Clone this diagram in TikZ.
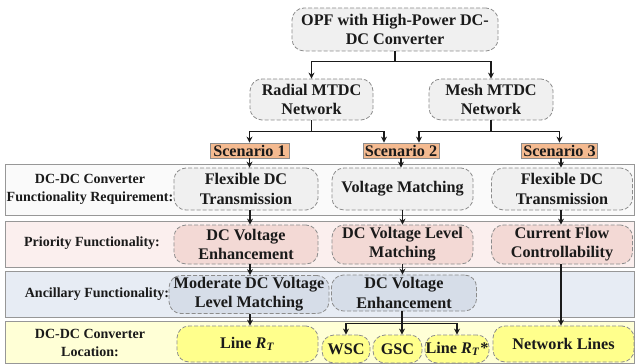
\documentclass[tikz,border=0pt]{standalone}
\usepackage{fontspec}
\setmainfont{Liberation Serif}
\usepackage{tikz}
\usetikzlibrary{positioning, arrows.meta}
\definecolor{ofInk}{HTML}{1A1A1A}
\definecolor{ofEdge}{HTML}{8C8C8C}
\definecolor{ofGray}{HTML}{F0F0F0}
\definecolor{ofOrange}{HTML}{F4BA90}
\definecolor{ofBandA}{HTML}{FAFAFA}
\definecolor{ofBandB}{HTML}{FBEFEE}
\definecolor{ofPink}{HTML}{F3D9D5}
\definecolor{ofBandC}{HTML}{E7ECF4}
\definecolor{ofBlue}{HTML}{D6DDE8}
\definecolor{ofBandD}{HTML}{FFFFD6}
\definecolor{ofYellow}{HTML}{FFFF8C}

\begin{document}
\begin{tikzpicture}[
    x=0.5pt, y=-0.5pt,
    >={Stealth[length=3pt, width=3pt]},
    box/.style={draw=ofEdge, dash pattern=on 2pt off 1pt, rounded corners=6pt, line width=0.4pt,
                align=center, inner sep=0pt, text=ofInk, font=\fontsize{8.1}{9.6}\selectfont\bfseries},
    graybox/.style={box, fill=ofGray},
    pinkbox/.style={box, fill=ofPink},
    bluebox/.style={box, fill=ofBlue},
    yellowbox/.style={box, fill=ofYellow},
    scenbox/.style={draw=ofEdge, fill=ofOrange, line width=0.4pt, inner sep=0.8pt,
                    minimum height=7.5pt, text=ofInk, font=\fontsize{8.1}{9.6}\selectfont\bfseries},
    band/.style={draw=ofEdge!90, line width=0.5pt},
    bandlabel/.style={font=\fontsize{7}{9}\selectfont\bfseries, align=center, text=ofInk},
    arrow/.style={->, line width=0.7pt, ofInk},
]
\useasboundingbox (0,0) rectangle (635,363);

% --- Bands ---
\path[band, fill=ofBandA] (5,164) rectangle (634,215);
\path[band, fill=ofBandB] (5,221) rectangle (634,267);
\path[band, fill=ofBandC] (5,271) rectangle (634,317);
\path[band, fill=ofBandD] (5,321) rectangle (634,363);

\node[bandlabel] (labreq) at (90,189) {DC-DC Converter\\Functionality Requirement:};
\node[bandlabel] (labpri) at (92,243) {Priority Functionality:};
\node[bandlabel] (labanc) at (97,294) {Ancillary Functionality:};
\node[bandlabel] (labloc) at (90,343) {DC-DC Converter\\Location:};

% --- Top: OPF and networks ---
\node[graybox, minimum width=103pt, minimum height=21.5pt] (opf) at (395,29.5) {OPF with High-Power DC-\\DC Converter};
\node[graybox, minimum width=61.5pt, minimum height=20.5pt] (radial) at (311.5,99.5) {Radial MTDC\\Network};
\node[graybox, minimum width=62pt, minimum height=20.5pt] (mesh) at (491,99.5) {Mesh MTDC\\Network};

\draw[arrow] (opf.south) -- ++(0,10) -| (radial.north);
\draw[arrow] (opf.south) -- ++(0,10) -| (mesh.north);

% --- Scenarios ---
\node[scenbox, minimum width=39.5pt] (sc1) at (249.5,150.5) {Scenario 1};
\node[scenbox, minimum width=38pt] (sc2) at (401,150.5) {Scenario 2};
\node[scenbox, minimum width=37.5pt] (sc3) at (559.5,150.5) {Scenario 3};

\draw[arrow] (radial.south) -- ++(0,11) -| (sc1.north);
\draw[arrow] (radial.south) -- ++(0,11) -| ([xshift=-8.5pt]sc2.north);
\draw[arrow] (mesh.south) -- ++(0,11) -| ([xshift=9pt]sc2.north);
\draw[arrow] (mesh.south) -- ++(0,11) -| (sc3.north);

% --- Functionality requirement ---
\node[graybox, minimum width=72pt, minimum height=21pt] (req1) at (246,189) {Flexible DC\\Transmission};
\node[graybox, minimum width=70.5pt, minimum height=21pt] (req2) at (402.5,189) {Voltage Matching};
\node[graybox, minimum width=70.5pt, minimum height=21pt] (req3) at (562,189) {Flexible DC\\Transmission};

\draw[arrow] (sc1.south) -- (sc1.south |- req1.north);
\draw[arrow] (sc2.south) -- (sc2.south |- req2.north);
\draw[arrow] ([xshift=0.75pt]sc3.south) -- ([xshift=0.75pt]sc3.south |- req3.north);

% --- Priority functionality ---
\node[pinkbox, minimum width=72pt, minimum height=19.5pt] (pri1) at (246,244.5) {DC Voltage\\Enhancement};
\node[pinkbox, minimum width=70.5pt, minimum height=19.5pt] (pri2) at (402.5,244.5) {DC Voltage Level\\Matching};
\node[pinkbox, minimum width=70.5pt, minimum height=19.5pt] (pri3) at (562,244.5) {Current Flow\\Controllability};

\draw[arrow] ([xshift=2pt]req1.south) -- ([xshift=2pt]req1.south |- pri1.north);
\draw[arrow] (req2.south) -- (req2.south |- pri2.north);
\draw[arrow] ([xshift=-0.5pt]req3.south) -- ([xshift=-0.5pt]req3.south |- pri3.north);

% --- Ancillary functionality ---
\node[bluebox, minimum width=80pt, minimum height=19pt] (anc1) at (249,294.5) {Moderate DC Voltage\\Level Matching};
\node[bluebox, minimum width=72.5pt, minimum height=18pt] (anc2) at (404,293) {DC Voltage\\Enhancement};

\draw[arrow] ([xshift=2pt]pri1.south) -- ([xshift=0.5pt]anc1.north);
\draw[arrow] (pri2.south) -- (pri2.south |- anc2.north);

% --- Converter location ---
\node[yellowbox, minimum width=70.5pt, minimum height=18pt] (loc1) at (247.5,344) {Line \textit{R}\textsubscript{\textit{T}}};
\node[yellowbox, minimum width=24pt, minimum height=14pt] (wsc) at (346,349) {WSC};
\node[yellowbox, minimum width=24.5pt, minimum height=14pt] (gsc) at (397.5,349) {GSC};
\node[yellowbox, minimum width=32pt, minimum height=14pt] (lrt) at (457,349) {Line \textit{R}\textsubscript{\textit{T}}*};
\node[yellowbox, minimum width=70.5pt, minimum height=18pt] (net) at (563.5,344) {Network Lines};

\draw[arrow] ([xshift=0.5pt]anc1.south) -- ([xshift=0.5pt]anc1.south |- loc1.north);
\draw[arrow] ([xshift=-1pt]anc2.south) -- ++(0,12) -| (wsc.north);
\draw[arrow] ([xshift=-1pt]anc2.south) -- ([xshift=-1pt]anc2.south |- gsc.north);
\draw[arrow] ([xshift=-1pt]anc2.south) -- ++(0,12) -| (lrt.north);
\draw[arrow] ([xshift=-0.5pt]pri3.south) -- ([xshift=-0.5pt]pri3.south |- net.north);

\end{tikzpicture}
\end{document}
